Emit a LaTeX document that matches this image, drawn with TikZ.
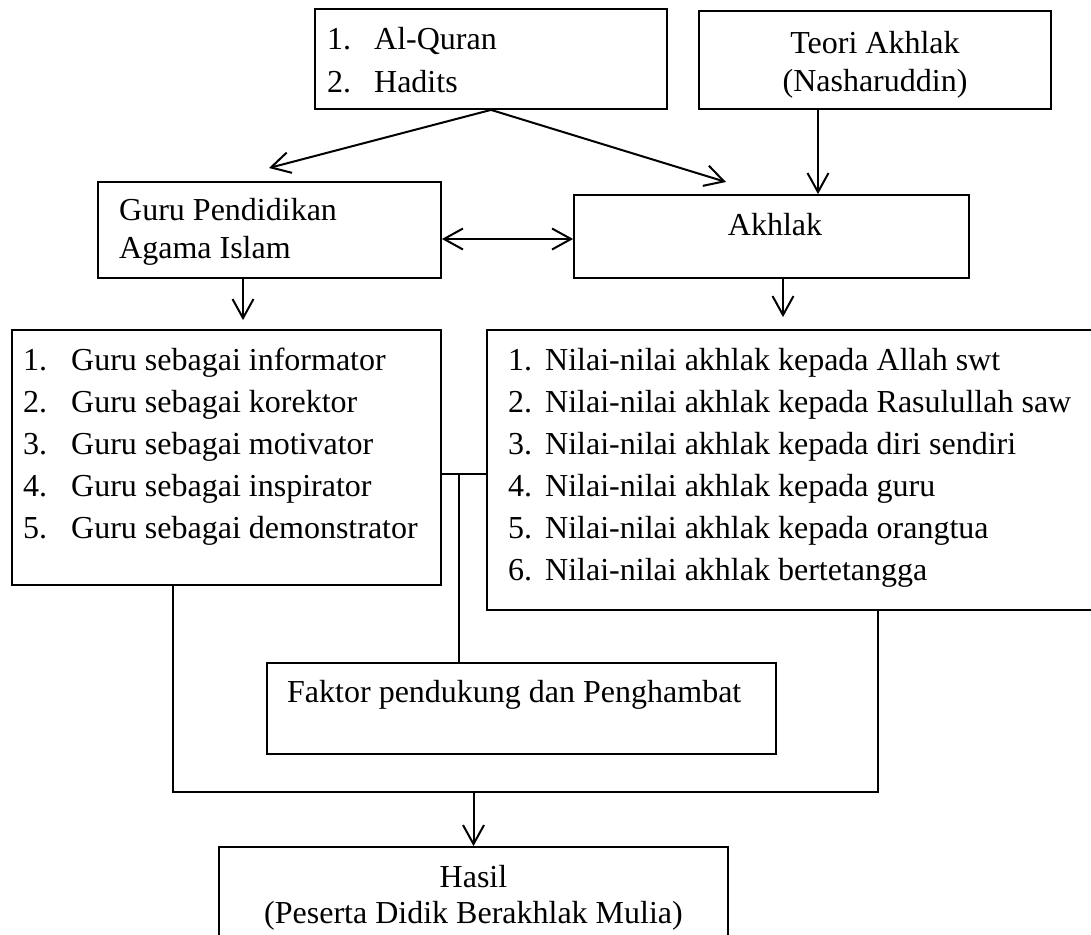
\documentclass[tikz,border=0pt]{standalone}
\usepackage{fontspec}
\setmainfont{Liberation Serif}
\usetikzlibrary{arrows.meta}

\begin{document}
\begin{tikzpicture}[x=1pt,y=-1pt,font=\fontsize{32}{38}\selectfont,
	>={Straight Barb[length=19pt,width=21pt]},
	kotak/.style={draw,line width=1.8pt,inner sep=0pt},
	teks/.style={anchor=base west,inner sep=0pt},
	tengah/.style={anchor=base,inner sep=0pt},
	garis/.style={line width=1.7pt},
	panah/.style={line width=2pt,->}]
	\useasboundingbox (0,0) rectangle (1091,934);
	
	\node[kotak,minimum width=352,minimum height=100] (sumber) at (491,59) {};
	\node[kotak,minimum width=352,minimum height=98] (teori) at (875,60) {};
	\node[kotak,minimum width=343,minimum height=96] (guru) at (269.5,230) {};
	\node[kotak,minimum width=395,minimum height=83] (akhlak) at (771.5,236.5) {};
	\node[kotak,minimum width=429,minimum height=255] (peran) at (226.5,457.5) {};
	\node[kotak,minimum width=610,minimum height=280] (nilai) at (792,470) {};
	\node[kotak,minimum width=509,minimum height=91] (faktor) at (521.5,708.5) {};
	\node[kotak,minimum width=509,minimum height=98] (hasil) at (473.5,896) {};
	
	\node[teks] (sumber1) at (327,50) {\makebox[47pt][l]{1.}Al-Quran};
	\node[teks] (sumber2) at (327,92) {\makebox[47pt][l]{2.}Hadits};
	\node[tengah] (teori1) at (875,53) {Teori Akhlak};
	\node[tengah] (teori2) at (875,91) {(Nasharuddin)};
	\node[teks] (guru1) at (119,220) {Guru Pendidikan};
	\node[teks] (guru2) at (119,258) {Agama Islam};
	\node[tengah] (akhlak1) at (775,235) {Akhlak};
	
	\node[teks] (peran1) at (23,370) {\makebox[48pt][l]{1.}Guru sebagai informator};
	\node[teks] (peran2) at (23,412) {\makebox[48pt][l]{2.}Guru sebagai korektor};
	\node[teks] (peran3) at (23,454) {\makebox[48pt][l]{3.}Guru sebagai motivator};
	\node[teks] (peran4) at (23,496) {\makebox[48pt][l]{4.}Guru sebagai inspirator};
	\node[teks] (peran5) at (23,538) {\makebox[48pt][l]{5.}Guru sebagai demonstrator};
	
	\node[teks] (nilai1) at (508,370) {\makebox[37pt][l]{1.}Nilai-nilai akhlak kepada Allah swt};
	\node[teks] (nilai2) at (508,412) {\makebox[37pt][l]{2.}Nilai-nilai akhlak kepada Rasulullah saw};
	\node[teks] (nilai3) at (508,454) {\makebox[37pt][l]{3.}Nilai-nilai akhlak kepada diri sendiri};
	\node[teks] (nilai4) at (508,496) {\makebox[37pt][l]{4.}Nilai-nilai akhlak kepada guru};
	\node[teks] (nilai5) at (508,538) {\makebox[37pt][l]{5.}Nilai-nilai akhlak kepada orangtua};
	\node[teks] (nilai6) at (508,580) {\makebox[37pt][l]{6.}Nilai-nilai akhlak bertetangga};
	
	\node[teks] (faktor1) at (287,702) {Faktor pendukung dan Penghambat};
	\node[tengah] (hasil1) at (473.5,887) {Hasil};
	\node[tengah] (hasil2) at (473.5,923) {(Peserta Didik Berakhlak Mulia)};
	
	\coordinate (ujungkiri) at (269,168);
	\coordinate (ujungkanan) at (726,182);
	\coordinate (cabang) at (459,474);
	\coordinate (gabung) at (473.5,792);
	
	\draw[panah] (sumber.south) -- (ujungkiri);
	\draw[panah] (sumber.south) -- (ujungkanan);
	\draw[panah] (teori.south -| 818,0) -- (akhlak.north -| 818,0);
	\draw[panah,<->] (guru.east |- 0,239) -- (akhlak.west |- 0,239);
	\draw[panah,shorten >=9pt] (guru.south -| 243,0) -- (peran.north -| 243,0);
	\draw[panah,shorten >=12pt] (akhlak.south -| 783,0) -- (nilai.north -| 783,0);
	
	\draw[line width=2.2pt] (peran.east |- cabang) -- (nilai.west |- cabang);
	\draw[garis] (cabang) -- (faktor.north -| cabang);
	\draw[garis] (peran.south -| 173,0) |- (gabung) -| (nilai.south -| 878,0);
	\draw[panah] (gabung) -- (hasil.north);
	
\end{tikzpicture}
\end{document}
